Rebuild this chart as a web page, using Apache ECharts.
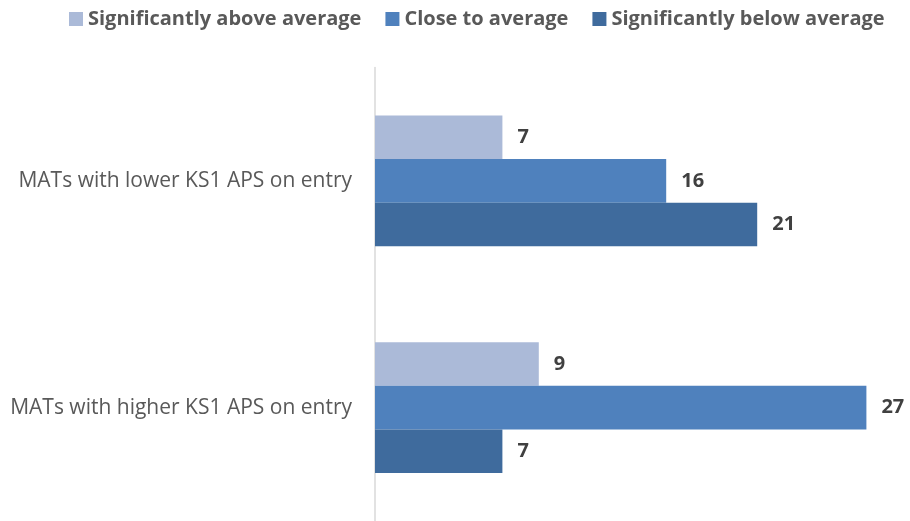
<!DOCTYPE html>
<html>
<head>
<meta charset="utf-8">
<script src="https://cdn.jsdelivr.net/npm/echarts@6/dist/echarts.min.js"></script>
<style>html,body{margin:0;padding:0;background:#fff}#c{width:910px;height:521px}</style>
</head>
<body>
<div id="c"></div>
<script>
var categories = ['MATs with lower KS1 APS on entry', 'MATs with higher KS1 APS on entry'];
var seriesNames = ['Significantly above average', 'Close to average', 'Significantly below average'];
var aboveAvg = [7, 9];
var closeAvg = [16, 27];
var belowAvg = [21, 7];
var colors = ['#ABBAD8', '#4F81BD', '#3F6B9D'];
var values = [aboveAvg, closeAvg, belowAvg];

var chart = echarts.init(document.getElementById('c'));
var font = 'Open Sans';
chart.setOption({
  animation: false,
  legend: {
    top: 4, left: 64,
    itemWidth: 14, itemHeight: 14, itemGap: 24,
    icon: 'rect',
    textStyle: {fontFamily: font, fontSize: 20, fontWeight: 'bold', color: '#595959'},
    data: seriesNames
  },
  grid: {left: 375, top: 67.5, bottom: 0, right: 25.4, containLabel: false},
  xAxis: {
    type: 'value', min: 0, max: 28, show: false
  },
  yAxis: {
    type: 'category', inverse: true, data: categories,
    axisLine: {show: true, lineStyle: {color: '#D9D9D9', width: 1.5}},
    axisTick: {show: false},
    axisLabel: {fontFamily: font, fontSize: 21, color: '#595959', margin: 23}
  },
  series: seriesNames.map(function (n, i) {
    return {
      name: n, type: 'bar', data: values[i],
      barWidth: 43.6, barGap: '0%',
      itemStyle: {color: colors[i]},
      label: {show: true, position: 'right', distance: 15,
        fontFamily: font, fontSize: 20, fontWeight: 'bold', color: '#404040'}
    };
  })
});
</script>
</body>
</html>
